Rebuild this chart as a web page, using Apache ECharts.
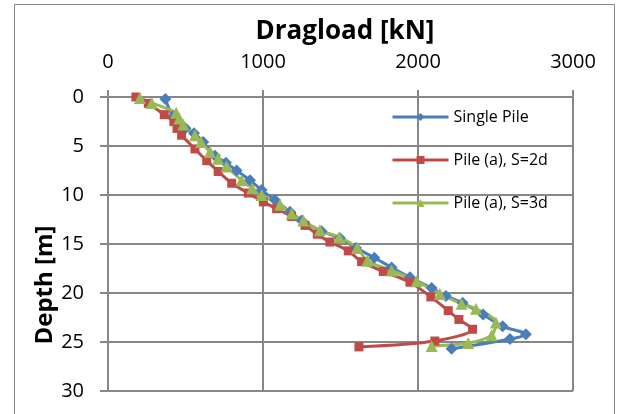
<!DOCTYPE html>
<html>
<head>
<meta charset="utf-8">
<script src="https://cdn.jsdelivr.net/npm/echarts@6/dist/echarts.min.js"></script>
<style>
  html, body { margin: 0; padding: 0; background: #fff; }
  #chart { width: 617px; height: 414px; }
</style>
</head>
<body>
<div id="chart"></div>
<script>
// values
const seriesNames = ['Single Pile', 'Pile (a), S=2d', 'Pile (a), S=3d'];
const loadTicks = [0, 1000, 2000, 3000];

const singleDepth = [0.2, 2.0, 3.2, 3.7, 4.6, 6.0, 6.7, 7.5, 8.5, 9.5, 10.5, 11.7, 12.6, 13.7, 14.4, 15.4, 16.4, 17.4, 18.4, 19.5, 20.3, 21.0, 22.2, 23.4, 24.2, 24.7, 25.7];
const singleLoad = [370, 420, 500, 555, 614, 690, 761, 830, 916, 991, 1077, 1174, 1249, 1378, 1496, 1600, 1718, 1830, 1948, 2088, 2180, 2288, 2420, 2546, 2696, 2593, 2217];

const s2dDepth = [0, 0.65, 1.8, 2.5, 3.2, 3.9, 5.3, 6.5, 7.6, 8.8, 9.8, 10.7, 11.4, 12.2, 13.1, 14.0, 14.8, 15.7, 16.8, 17.8, 18.9, 20.4, 21.8, 22.7, 23.7, 24.9, 25.5];
const s2dLoad = [180, 260, 363, 425, 445, 475, 561, 637, 711, 798, 905, 1002, 1088, 1185, 1271, 1350, 1432, 1550, 1636, 1776, 1948, 2083, 2195, 2264, 2352, 2109, 1619];

const s3dDepth = [0.1, 0.6, 1.6, 2.2, 2.8, 3.9, 4.6, 5.6, 6.3, 7.1, 8.5, 9.3, 10.0, 11.0, 11.9, 12.6, 13.6, 14.3, 15.4, 16.7, 17.7, 18.8, 20.1, 21.1, 21.6, 23.0, 24.3, 25.1, 25.4];
const s3dLoad = [206, 282, 440, 460, 486, 561, 600, 658, 710, 765, 862, 930, 991, 1110, 1185, 1260, 1367, 1492, 1608, 1673, 1830, 1991, 2141, 2281, 2374, 2503, 2475, 2324, 2088];

const colors = ['#4a7ebb', '#be4b48', '#98b954'];
const symbols = ['diamond', 'rect', 'triangle'];
const symbolSizes = [12, 9, 12];
const gridColor = '#878787';
const font = 'Open Sans';

const zip = (xs, ys) => xs.map((x, i) => [x, ys[i]]);
const seriesData = [
  zip(singleLoad, singleDepth),
  zip(s2dLoad, s2dDepth),
  zip(s3dLoad, s3dDepth),
];

const chart = echarts.init(document.getElementById('chart'), null, { renderer: 'canvas' });
chart.setOption({
  animation: false,
  color: colors,
  title: {
    text: 'Dragload [kN]',
    left: 340,
    top: 14,
    textAlign: 'center',
    textStyle: { fontFamily: font, fontSize: 26, fontWeight: 'bold', color: '#000' },
  },
  legend: {
    orient: 'vertical',
    left: 386,
    top: 104,
    itemWidth: 56,
    itemHeight: 10,
    itemGap: 27,
    lineStyle: { width: 3 },
    textStyle: { fontFamily: font, fontSize: 16, color: '#000' },
    data: seriesNames,
  },
  grid: { left: 108, right: 44, top: 97, bottom: 23 },
  xAxis: {
    type: 'value',
    position: 'top',
    min: 0,
    max: 3000,
    interval: 1000,
    axisLine: { show: true, lineStyle: { color: gridColor, width: 2 } },
    axisTick: { show: true, length: 7, lineStyle: { color: gridColor, width: 2 } },
    axisLabel: { fontFamily: font, fontSize: 20, color: '#000', margin: 25, formatter: v => loadTicks.includes(v) ? String(v) : '' },
    splitLine: { show: true, lineStyle: { color: gridColor, width: 2 } },
  },
  yAxis: {
    type: 'value',
    inverse: true,
    min: 0,
    max: 30,
    interval: 5,
    axisLine: { show: true, lineStyle: { color: gridColor, width: 2 } },
    axisTick: { show: true, length: 8, lineStyle: { color: gridColor, width: 2 } },
    axisLabel: { fontFamily: font, fontSize: 20, color: '#000', margin: 24 },
    splitLine: { show: true, lineStyle: { color: gridColor, width: 2 } },
  },
  graphic: [
    {
      type: 'rect',
      shape: { x: 14.5, y: 4.5, width: 600, height: 430 },
      style: { fill: 'none', stroke: gridColor, lineWidth: 1 },
      silent: true,
    },
    {
      type: 'text',
      x: 45,
      y: 285,
      rotation: Math.PI / 2,
      style: {
        text: 'Depth [m]',
        fontFamily: font,
        fontSize: 24,
        fontWeight: 'bold',
        fill: '#000',
        align: 'center',
        verticalAlign: 'middle',
      },
      silent: true,
    },
  ],
  series: seriesNames.map((name, i) => ({
    name,
    type: 'line',
    smooth: 0.3,
    symbol: symbols[i],
    symbolSize: symbolSizes[i],
    showAllSymbol: true,
    lineStyle: { width: 3, color: colors[i] },
    itemStyle: { color: colors[i] },
    data: seriesData[i],
  })),
});
</script>
</body>
</html>
